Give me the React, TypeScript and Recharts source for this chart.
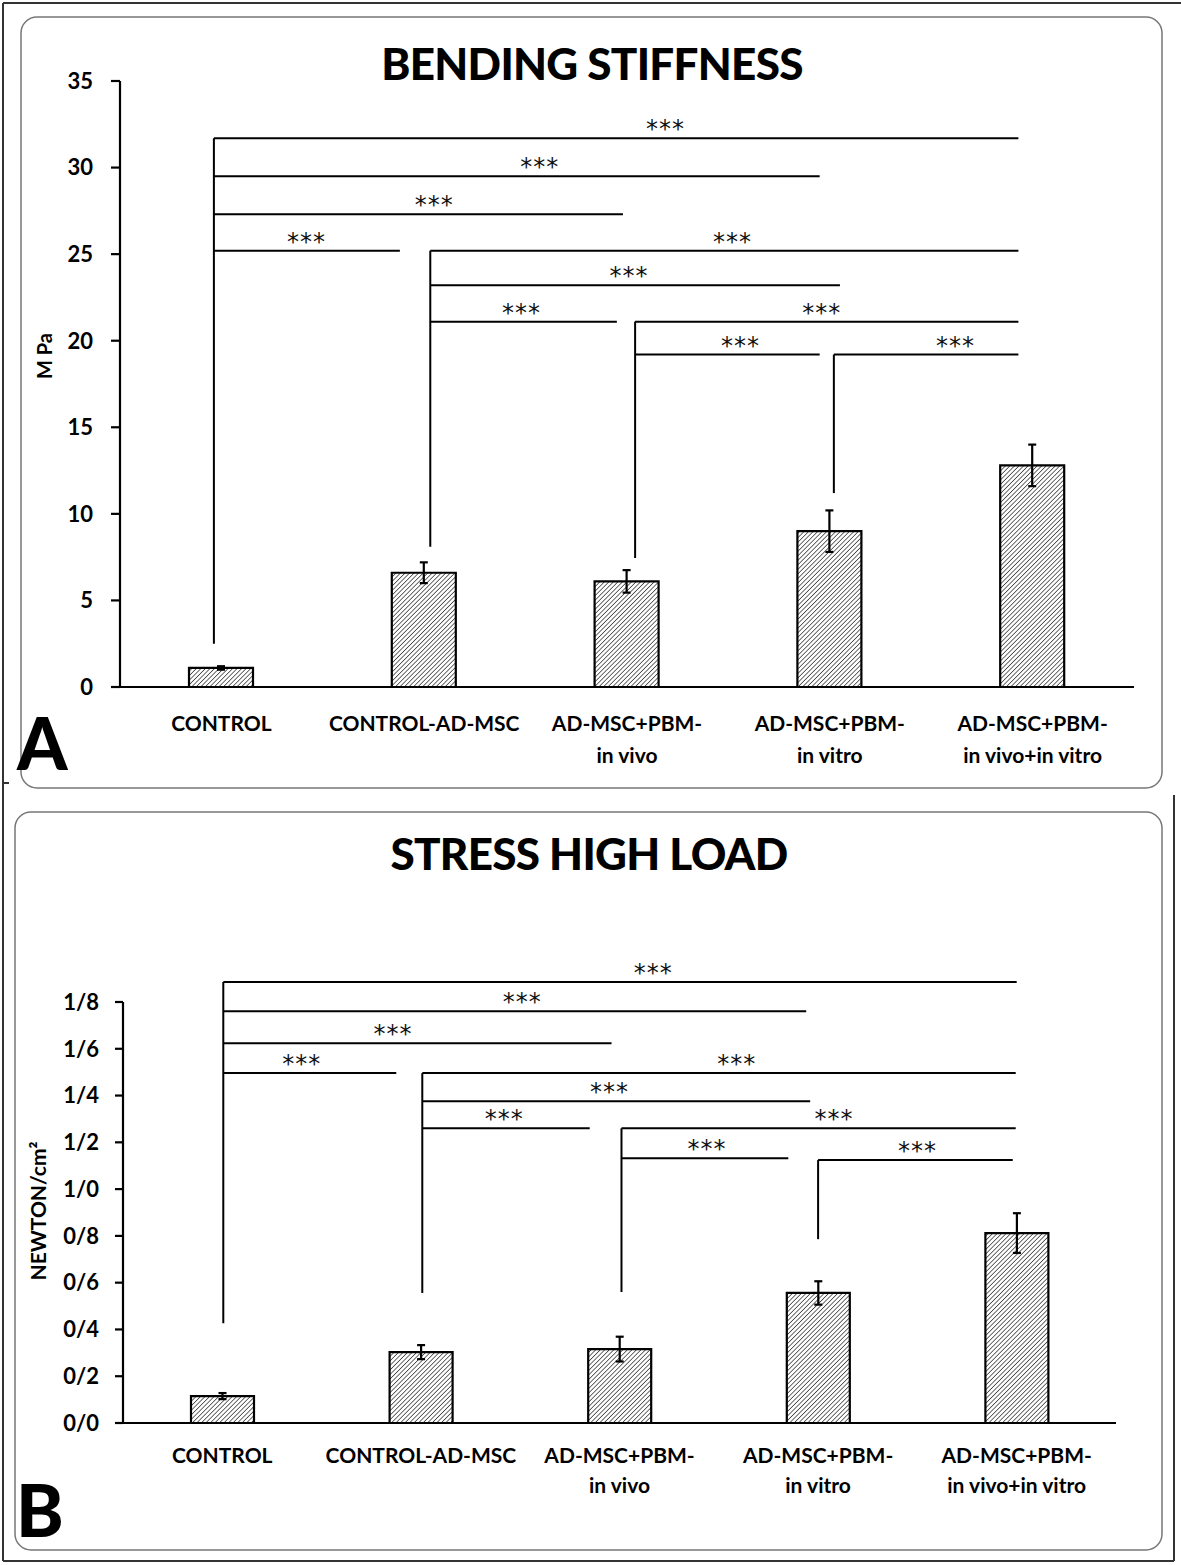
import React from 'react';
import { ComposedChart, Bar, XAxis, YAxis, ErrorBar, ReferenceLine, ReferenceDot } from 'recharts';

const FONT = 'Lato, "Open Sans", Arial, sans-serif';
const STAR_FONT = '"DejaVu Sans", "Open Sans", sans-serif';

// ---------- data ----------
const categories = [
  'CONTROL',
  'CONTROL-AD-MSC',
  'AD-MSC+PBM- in vivo',
  'AD-MSC+PBM- in vitro',
  'AD-MSC+PBM- in vivo+in vitro',
];
const labelLine1 = ['CONTROL', 'CONTROL-AD-MSC', 'AD-MSC+PBM-', 'AD-MSC+PBM-', 'AD-MSC+PBM-'];
const labelLine2 = ['', '', 'in vivo', 'in vitro', 'in vivo+in vitro'];

const stiffness = [1.1, 6.6, 6.1, 9.0, 12.8];
const stiffnessErr = [0.1, 0.6, 0.65, 1.2, 1.2];

const stress = [0.115, 0.303, 0.316, 0.556, 0.812];
const stressErr = [0.013, 0.03, 0.053, 0.05, 0.085];

const yTicksA = [0, 5, 10, 15, 20, 25, 30, 35];
const yTickLabelsA = ['0', '5', '10', '15', '20', '25', '30', '35'];
const yTicksB = [0, 0.2, 0.4, 0.6, 0.8, 1.0, 1.2, 1.4, 1.6, 1.8];
const yTickLabelsB = ['0/0', '0/2', '0/4', '0/6', '0/8', '1/0', '1/2', '1/4', '1/6', '1/8'];

// significance brackets: x in category-index units, y in data units
const linesA = [
  { x1: -0.037, x2: 3.93, y: 31.7, lx: 2.19 },
  { x1: -0.037, x2: 2.95, y: 29.5, lx: 1.57 },
  { x1: -0.037, x2: 1.98, y: 27.3, lx: 1.05 },
  { x1: -0.037, x2: 0.88, y: 25.2, lx: 0.42 },
  { x1: 1.03, x2: 3.93, y: 25.2, lx: 2.52 },
  { x1: 1.03, x2: 3.05, y: 23.2, lx: 2.01 },
  { x1: 1.03, x2: 1.95, y: 21.1, lx: 1.48 },
  { x1: 2.04, x2: 3.93, y: 21.1, lx: 2.96 },
  { x1: 2.04, x2: 2.95, y: 19.2, lx: 2.56 },
  { x1: 3.02, x2: 3.93, y: 19.2, lx: 3.62 },
];
const stemsA = [
  { x: -0.037, y1: 2.5, y2: 31.7 },
  { x: 1.03, y1: 8.1, y2: 25.2 },
  { x: 2.04, y1: 7.45, y2: 21.1 },
  { x: 3.02, y1: 11.2, y2: 19.2 },
];

const linesB = [
  { x1: 0.005, x2: 4.0, y: 1.885, lx: 2.17 },
  { x1: 0.005, x2: 2.94, y: 1.76, lx: 1.51 },
  { x1: 0.005, x2: 1.96, y: 1.624, lx: 0.86 },
  { x1: 0.005, x2: 0.876, y: 1.496, lx: 0.4 },
  { x1: 1.007, x2: 3.995, y: 1.496, lx: 2.59 },
  { x1: 1.007, x2: 2.96, y: 1.376, lx: 1.95 },
  { x1: 1.007, x2: 1.85, y: 1.26, lx: 1.42 },
  { x1: 2.01, x2: 3.995, y: 1.26, lx: 3.08 },
  { x1: 2.01, x2: 2.85, y: 1.132, lx: 2.44 },
  { x1: 3.0, x2: 3.98, y: 1.124, lx: 3.5 },
];
const stemsB = [
  { x: 0.005, y1: 0.427, y2: 1.885 },
  { x: 1.007, y1: 0.556, y2: 1.496 },
  { x: 2.01, y1: 0.56, y2: 1.26 },
  { x: 3.0, y1: 0.786, y2: 1.124 },
];

// ---------- components ----------
const CatTick = (props: any) => {
  const { x, y, payload, g1, g2 } = props;
  const i = payload && payload.index !== undefined ? payload.index : props.index;
  return (
    <g>
      <text x={x} y={y + g1} textAnchor="middle" fontFamily={FONT} fontWeight={700} fontSize={21} fill="#000">
        {labelLine1[i]}
      </text>
      {labelLine2[i] ? (
        <text x={x} y={y + g2} textAnchor="middle" fontFamily={FONT} fontWeight={700} fontSize={21} fill="#000">
          {labelLine2[i]}
        </text>
      ) : null}
    </g>
  );
};

const Stars = (props: any) => (
  <text
    x={props.cx}
    y={props.cy - 1}
    textAnchor="middle"
    fontFamily={STAR_FONT}
    fontSize={24}
    letterSpacing={1}
    fill="#111"
  >
    ***
  </text>
);

type PanelProps = {
  id: string;
  top: number;
  height: number;
  margin: { top: number; right: number; bottom: number; left: number };
  values: number[];
  errs: number[];
  yDomain: [number, number];
  yTicks: number[];
  yTickLabels: string[];
  tickSize: number;
  tickMargin: number;
  barSize: number;
  lines: { x1: number; x2: number; y: number; lx: number }[];
  stems: { x: number; y1: number; y2: number }[];
  g1: number;
  g2: number;
};

const Panel = (p: PanelProps) => {
  const data = categories.map((name, i) => ({ name, idx: i, value: p.values[i], err: p.errs[i] }));
  return (
    <div style={{ position: 'absolute', left: 0, top: p.top }}>
      <ComposedChart width={1181} height={p.height} data={data} margin={p.margin}>
        <defs>
          <pattern id={'hatch' + p.id} patternUnits="userSpaceOnUse" width={3.2} height={3.2} patternTransform="rotate(45)">
            <rect width={3.2} height={3.2} fill="#fff" />
            <line x1={0} y1={0} x2={0} y2={3.2} stroke="#2a2a2a" strokeWidth={1.4} />
          </pattern>
        </defs>
        <XAxis
          xAxisId="c"
          dataKey="name"
          type="category"
          interval={0}
          height={100}
          tickLine={false}
          tickSize={0}
          tickMargin={0}
          axisLine={{ stroke: '#000', strokeWidth: 2.2 }}
          tick={<CatTick g1={p.g1} g2={p.g2} />}
        />
        <XAxis xAxisId="n" dataKey="idx" type="number" domain={[-0.5, 4.5]} allowDataOverflow hide />
        <YAxis
          width={100}
          domain={p.yDomain}
          ticks={p.yTicks}
          interval={0}
          allowDataOverflow
          tickSize={p.tickSize}
          tickMargin={p.tickMargin}
          axisLine={{ stroke: '#000', strokeWidth: 2.2 }}
          tickLine={{ stroke: '#000', strokeWidth: 2.2 }}
          tickFormatter={(v: number, i: number) => p.yTickLabels[i]}
          tick={{ fontFamily: FONT, fontWeight: 700, fontSize: 22, fill: '#000' }}
        />
        <Bar
          xAxisId="c"
          dataKey="value"
          barSize={p.barSize}
          fill={'url(#hatch' + p.id + ')'}
          stroke="#000"
          strokeWidth={2.2}
          isAnimationActive={false}
        >
          <ErrorBar dataKey="err" direction="y" width={4} stroke="#000" strokeWidth={2.2} />
        </Bar>
        {p.stems.map((s, i) => (
          <ReferenceLine
            key={'s' + i}
            xAxisId="n"
            ifOverflow="visible"
            segment={[
              { x: s.x, y: s.y1 },
              { x: s.x, y: s.y2 },
            ]}
            stroke="#000"
            strokeWidth={2}
          />
        ))}
        {p.lines.map((l, i) => (
          <ReferenceLine
            key={'l' + i}
            xAxisId="n"
            ifOverflow="visible"
            segment={[
              { x: l.x1, y: l.y },
              { x: l.x2, y: l.y },
            ]}
            stroke="#000"
            strokeWidth={2}
          />
        ))}
        {p.lines.map((l, i) => (
          <ReferenceDot key={'d' + i} xAxisId="n" x={l.lx} y={l.y} r={0} ifOverflow="visible" shape={<Stars />} />
        ))}
      </ComposedChart>
    </div>
  );
};

const Overlay = () => (
  <svg width={1181} height={1565} style={{ position: 'absolute', left: 0, top: 0 }}>
    <rect x={0} y={0} width={1181} height={1565} fill="#fff" />
    <g stroke="#333" strokeWidth={2}>
      <line x1={3} y1={3} x2={1181} y2={3} />
      <line x1={3} y1={3} x2={3} y2={1561} />
      <line x1={3} y1={1561} x2={1174} y2={1561} />
      <line x1={1174} y1={795} x2={1174} y2={1561} />
      <line x1={3} y1={783} x2={9} y2={783} />
    </g>
    <rect x={21} y={17} width={1141} height={771} rx={16} fill="none" stroke="#777" strokeWidth={1.5} />
    <rect x={15} y={812} width={1147} height={738} rx={16} fill="none" stroke="#777" strokeWidth={1.5} />
    <text
      x={592}
      y={80}
      textAnchor="middle"
      fontFamily={FONT}
      fontWeight={900}
      fontSize={44}
      letterSpacing={-0.7}
      fill="#000"
    >
      BENDING STIFFNESS
    </text>
    <text
      x={589}
      y={870}
      textAnchor="middle"
      fontFamily={FONT}
      fontWeight={900}
      fontSize={44}
      letterSpacing={-0.7}
      fill="#000"
    >
      STRESS HIGH LOAD
    </text>
    <text x={17} y={770} fontFamily={FONT} fontWeight={900} fontSize={72} fill="#000">
      A
    </text>
    <text x={16} y={1537} fontFamily={FONT} fontWeight={900} fontSize={72} fill="#000">
      B
    </text>
    <text
      transform="translate(52,356) rotate(-90)"
      textAnchor="middle"
      fontFamily={FONT}
      fontWeight={700}
      fontSize={20}
      fill="#000"
    >
      M Pa
    </text>
    <text
      transform="translate(46,1211) rotate(-90)"
      textAnchor="middle"
      fontFamily={FONT}
      fontWeight={700}
      fontSize={21}
      fill="#000"
    >
      NEWTON/cm²
    </text>
  </svg>
);

export default function App() {
  return (
    <div style={{ position: 'absolute', left: 0, top: 0, width: 1181, height: 1565, background: '#fff' }}>
      <Overlay />
      <Panel
        id="A"
        top={0}
        height={800}
        margin={{ top: 81, right: 47, bottom: 13, left: 20 }}
        values={stiffness}
        errs={stiffnessErr}
        yDomain={[0, 35]}
        yTicks={yTicksA}
        yTickLabels={yTickLabelsA}
        tickSize={9}
        tickMargin={18}
        barSize={64}
        lines={linesA}
        stems={stemsA}
        g1={44}
        g2={76}
      />
      <Panel
        id="B"
        top={800}
        height={765}
        margin={{ top: 202, right: 65, bottom: 42, left: 23 }}
        values={stress}
        errs={stressErr}
        yDomain={[0, 1.8]}
        yTicks={yTicksB}
        yTickLabels={yTickLabelsB}
        tickSize={8}
        tickMargin={16}
        barSize={63}
        lines={linesB}
        stems={stemsB}
        g1={40}
        g2={70}
      />
    </div>
  );
}
